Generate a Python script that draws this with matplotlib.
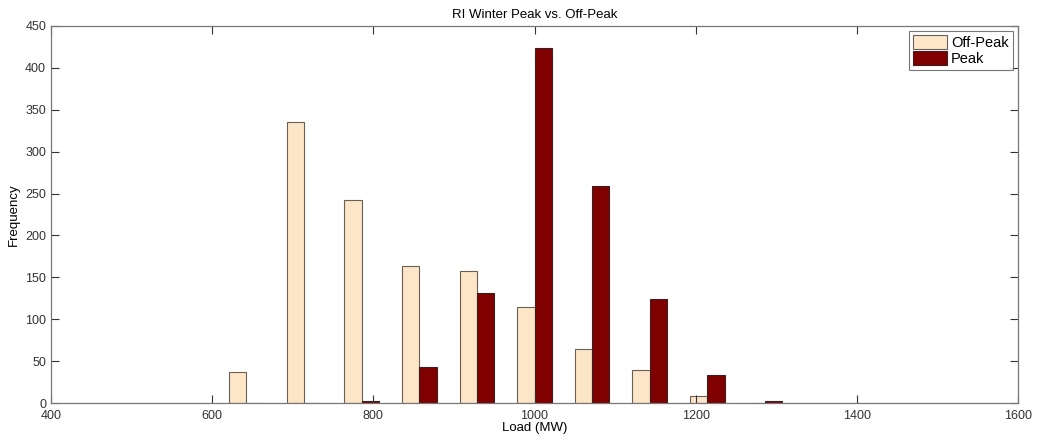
import numpy as np
import matplotlib
matplotlib.use('Agg')
import matplotlib.pyplot as plt

plt.rcParams['font.family'] = ['Liberation Sans', 'DejaVu Sans']

# bin centres (MW) and counts
binCenters = [642.5, 714.0, 785.5, 857.0, 928.5, 1000.0, 1071.5, 1143.0, 1214.5, 1286.0]
offPeak = [37, 336, 242, 164, 158, 115, 65, 39, 8, 0]
peak = [0, 0, 2, 43, 131, 424, 259, 124, 33, 2]
seriesNames = ['Off-Peak', 'Peak']

fig = plt.figure(figsize=(10.37, 4.42), dpi=100)
ax = fig.add_axes([0.0492, 0.0882, 0.9325, 0.853])

x = np.array(binCenters)
w = 21.5
ax.bar(x - w / 2, offPeak, width=w, color='#fde6c8', edgecolor='#6b5e55',
       linewidth=0.8, label=seriesNames[0])
ax.bar(x + w / 2, peak, width=w, color='#800000', edgecolor='#3a2020',
       linewidth=0.8, label=seriesNames[1])

ax.set_xlim(400, 1600)
ax.set_ylim(0, 450)
ax.set_xticks(np.arange(400, 1601, 200))
ax.set_yticks(np.arange(0, 451, 50))
ax.tick_params(direction='in', length=6, top=True, right=True,
               labelsize=9, colors='#333333', width=0.8)
ax.tick_params(axis='x', pad=5)
for s in ax.spines.values():
    s.set_color('#777777')
    s.set_linewidth(0.9)

ax.set_xlabel('Load (MW)', fontsize=9.5, labelpad=0)
ax.set_ylabel('Frequency', fontsize=9.5, labelpad=4)
ax.set_title('RI Winter Peak vs. Off-Peak', fontsize=9.5, pad=6)

leg = ax.legend(loc='upper right', fontsize=10.5, fancybox=False,
                handlelength=2.3, handleheight=1.0, borderpad=0.3,
                labelspacing=0.1, handletextpad=0.3, borderaxespad=0.35)
leg.get_frame().set_edgecolor('#555555')
leg.get_frame().set_linewidth(0.8)

plt.savefig('out.png', dpi=100)
